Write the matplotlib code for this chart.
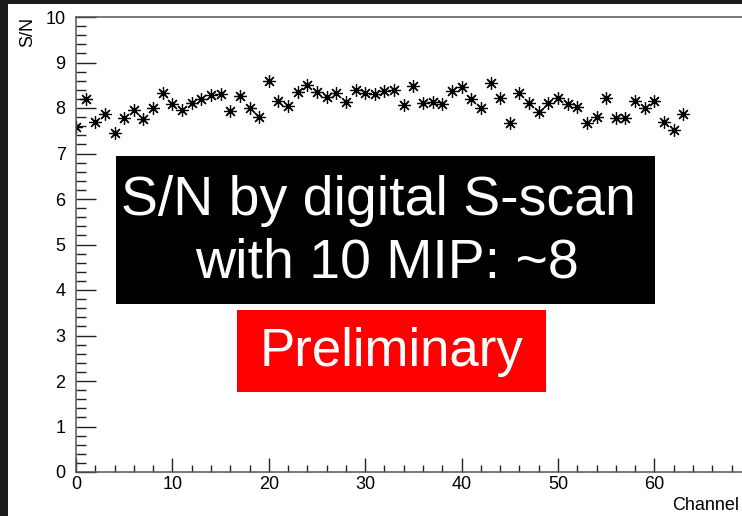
import numpy as np
import matplotlib
matplotlib.use('Agg')
import matplotlib.pyplot as plt
from matplotlib.patches import Rectangle
from matplotlib.ticker import MultipleLocator

plt.rcParams['font.family'] = ['Liberation Sans', 'DejaVu Sans']

# S/N per channel (digital S-scan, 10 MIP)
channels = np.arange(64)
sn = [7.59, 8.19, 7.69, 7.87, 7.44, 7.78, 7.96, 7.75, 8.00, 8.32,
      8.09, 7.96, 8.10, 8.19, 8.29, 8.31, 7.94, 8.26, 7.99, 7.81,
      8.59, 8.15, 8.04, 8.35, 8.50, 8.35, 8.25, 8.32, 8.14, 8.40,
      8.34, 8.31, 8.37, 8.40, 8.07, 8.49, 8.12, 8.13, 8.09, 8.38,
      8.47, 8.20, 7.99, 8.54, 8.23, 7.66, 8.32, 8.12, 7.92, 8.12,
      8.23, 8.09, 8.03, 7.68, 7.80, 8.23, 7.77, 7.77, 8.15, 7.99,
      8.15, 7.69, 7.52, 7.87]
x_major = [0, 10, 20, 30, 40, 50, 60]

title_lines = ['S/N by digital S-scan', 'with 10 MIP: ~8']
stamp = 'Preliminary'

W, H = 742, 516
fig = plt.figure(figsize=(W / 100, H / 100), dpi=100)
fig.patch.set_facecolor('#1c1c1c')
# white canvas area (dark strip left and top)
fig.patches.append(Rectangle((8 / W, 0), 1 - 8 / W, 1 - 4 / H,
                             transform=fig.transFigure, facecolor='white',
                             edgecolor='none', zorder=-1))

x0, x1 = 76, 750.8
y0, y1 = 472, 17
ax = fig.add_axes([x0 / W, (H - y0) / H, (x1 - x0) / W, (y0 - y1) / H])
ax.set_facecolor('white')

ax.plot(channels, sn, linestyle='none', marker=(8, 2, 0), markersize=9,
        markeredgewidth=0.9, color='black')

ax.set_xlim(0, 70)
ax.set_ylim(0, 10)
ax.set_xticks(x_major)
ax.xaxis.set_minor_locator(MultipleLocator(2))
ax.yaxis.set_major_locator(MultipleLocator(1))
ax.yaxis.set_minor_locator(MultipleLocator(0.2))

ax.tick_params(axis='x', which='major', direction='in', length=10, width=1.0,
               pad=3, labelsize=13, color='#222222')
ax.tick_params(axis='x', which='minor', direction='in', length=5, width=1.0,
               color='#222222')
ax.tick_params(axis='y', which='major', direction='in', length=14.4, width=1.0,
               pad=7.5, labelsize=13, color='#222222')
ax.tick_params(axis='y', which='minor', direction='in', length=7.2, width=1.0,
               color='#222222')

for side in ['left', 'bottom', 'top', 'right']:
    ax.spines[side].set_color('#555555')
    ax.spines[side].set_linewidth(1.1)

fig.text(28 / W, 1 - 17 / H, 'S/N', rotation=90, ha='center', va='top',
         fontsize=13)
fig.text(672 / W, 1 - 497 / H, 'Channel', ha='left', va='top', fontsize=13)

# overlay boxes
fig.patches.append(Rectangle((116 / W, (H - 304) / H), 539 / W, 148 / H,
                             transform=fig.transFigure, facecolor='black',
                             edgecolor='none', zorder=5))
fig.patches.append(Rectangle((237 / W, (H - 392) / H), 309 / W, 82 / H,
                             transform=fig.transFigure, facecolor='#ff0000',
                             edgecolor='none', zorder=5))

fig.text(378 / W, 1 - 201 / H, title_lines[0], ha='center', va='center',
         color='white', fontsize=40, zorder=6)
fig.text(387 / W, 1 - 263 / H, title_lines[1], ha='center', va='center',
         color='white', fontsize=40, zorder=6)
fig.text(391 / W, 1 - 352 / H, stamp, ha='center', va='center',
         color='white', fontsize=38, zorder=6)

fig.savefig('out.png', dpi=100, facecolor=fig.get_facecolor())
